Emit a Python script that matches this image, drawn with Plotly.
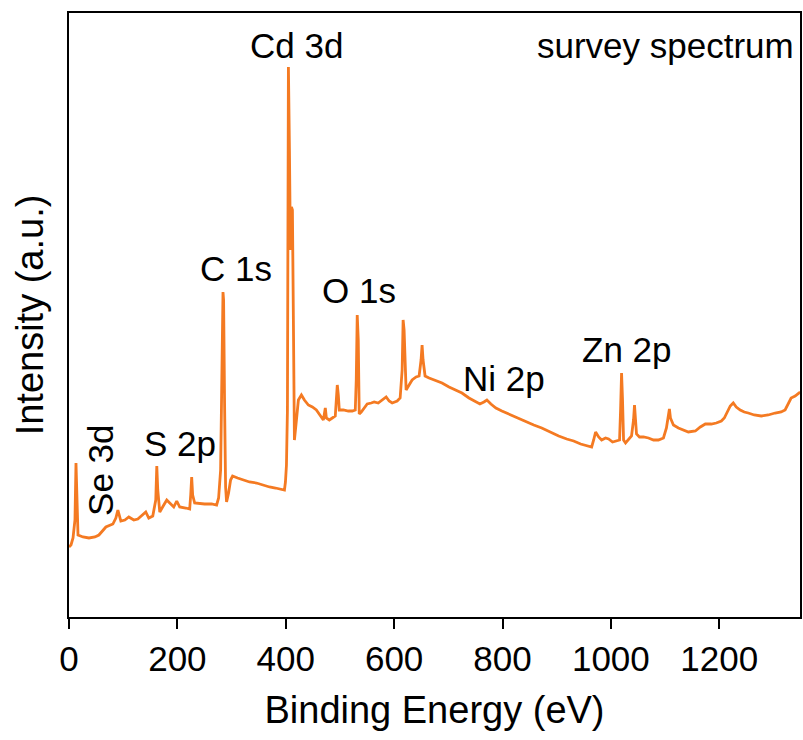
import plotly.graph_objects as go

# Binding energy (eV)
binding_energy = [
    0.0, 3.7, 7.4, 11.0, 12.9, 14.7, 16.6, 25.8, 36.8, 47.9, 55.2, 68.1, 81.0, 86.5, 90.2, 95.7,
    103.1, 110.4, 119.6, 127.0, 136.2, 141.7, 147.2, 154.6, 160.1, 162.0, 163.8, 167.5, 174.9,
    180.4, 185.9, 193.3, 198.8, 204.3, 215.4, 222.7, 224.6, 226.4, 228.2, 231.9, 250.3, 263.2,
    272.4, 276.1, 279.8, 281.6, 284.2, 285.3, 287.1, 289.0, 290.8, 294.5, 298.2, 301.9, 311.1,
    320.3, 333.1, 346.0, 357.1, 370.0, 381.0, 388.4, 397.6, 399.4, 401.3, 403.1, 404.0, 404.9,
    406.8, 408.6, 410.5, 412.3, 414.1, 416.0, 419.7, 423.3, 428.9, 434.4, 441.7, 449.1, 456.5,
    463.8, 469.4, 471.2, 473.0, 474.9, 480.4, 485.9, 491.4, 493.3, 495.1, 497.0, 498.8, 506.2,
    515.4, 522.7, 528.3, 530.1, 531.9, 533.8, 535.6, 539.3, 544.8, 550.3, 557.7, 563.2, 570.6,
    577.9, 585.3, 590.8, 596.4, 605.6, 611.1, 614.8, 616.6, 618.4, 620.3, 622.1, 627.6, 633.2,
    640.5, 646.1, 649.7, 651.6, 653.4, 657.1, 664.5, 675.5, 688.4, 701.3, 714.2, 725.2, 738.1,
    749.1, 758.3, 765.7, 771.2, 778.6, 787.8, 798.8, 811.7, 826.4, 843.0, 857.7, 872.4, 887.2,
    903.7, 918.5, 931.3, 944.2, 955.3, 964.5, 968.2, 971.8, 977.4, 982.9, 990.2, 995.8, 1003.1,
    1010.5, 1016.0, 1017.9, 1019.7, 1021.5, 1023.4, 1027.1, 1032.6, 1038.1, 1041.8, 1043.6,
    1045.5, 1047.3, 1052.8, 1060.2, 1069.4, 1078.6, 1087.8, 1097.0, 1102.5, 1106.2, 1108.0,
    1109.9, 1115.4, 1124.6, 1133.8, 1143.0, 1155.9, 1165.1, 1174.3, 1185.3, 1194.5, 1203.8,
    1209.3, 1214.8, 1220.3, 1225.8, 1231.4, 1238.7, 1246.1, 1253.5, 1264.5, 1277.4, 1290.3,
    1303.1, 1314.2, 1321.5, 1327.1, 1332.6, 1340.0, 1345.5, 1349.2,
]

# Intensity (a.u.)
intensity = [
    70, 72, 79, 97, 154, 117, 82, 80, 79, 80, 82, 90, 93, 99, 107, 96,
    97, 100, 97, 98, 102, 105, 99, 101, 117, 151, 127, 105, 112,
    117, 114, 110, 116, 110, 109, 108, 122, 140, 122, 114, 113, 113,
    112, 119, 147, 220, 325, 317, 214, 130, 115, 124, 137, 141, 139,
    137, 135, 134, 132, 130, 129, 128, 127, 135, 152, 207, 367, 550,
    467, 367, 410, 407, 297, 177, 197, 217, 222, 217, 212, 210, 207,
    201, 197, 203, 209, 199, 197, 199, 201, 217, 232, 222, 207, 207,
    206, 206, 207, 237, 302, 277, 203, 205, 209, 213, 214, 215, 214,
    217, 220, 216, 214, 216, 219, 247, 297, 287, 242, 227, 232, 237,
    240, 241, 257, 272, 257, 241, 239, 237, 234, 230, 227, 224, 219,
    216, 213, 215, 217, 213, 209, 206, 203, 199, 195, 192, 189, 185,
    181, 178, 176, 173, 171, 170, 177, 185, 180, 177, 179, 178, 175,
    176, 177, 207, 244, 217, 177, 174, 177, 181, 197, 212,
    197, 183, 180, 180, 179, 177, 177, 179, 189, 205, 208,
    199, 192, 189, 187, 185, 186, 190, 193, 193, 194, 196,
    199, 205, 211, 214, 210, 207, 205, 204, 202, 201, 202,
    204, 205, 207, 213, 219, 221, 223, 225,
]

x_ticks = [0, 200, 400, 600, 800, 1000, 1200]

label_text = ["Cd 3d", "C 1s", "O 1s", "Ni 2p", "Zn 2p", "S 2p"]
label_energy = [419.7, 307.4, 535.6, 802.5, 1028.9, 204.3]
label_level = [572, 349, 327, 239, 268, 174]

FONT = "Arial, Liberation Sans, sans-serif"
LINE_COLOR = "#F47A22"
ANN_SIZE = 35

fig = go.Figure()
fig.add_trace(go.Scatter(
    x=binding_energy, y=intensity, mode="lines",
    line=dict(color=LINE_COLOR, width=2.8), showlegend=False,
))

for t, xe, yl in zip(label_text, label_energy, label_level):
    fig.add_annotation(x=xe, y=yl, xref="x", yref="y", text=t, showarrow=False,
                       font=dict(family=FONT, size=ANN_SIZE, color="black"))

fig.add_annotation(x=57.1, y=147, xref="x", yref="y", text="Se 3d", showarrow=False,
                   textangle=-90, font=dict(family=FONT, size=ANN_SIZE, color="black"))
fig.add_annotation(x=0.995, y=572, xref="paper", yref="y", text="survey spectrum",
                   xanchor="right", showarrow=False,
                   font=dict(family=FONT, size=ANN_SIZE, color="black"))

fig.update_layout(
    width=803, height=740,
    margin=dict(l=69, r=1, t=13, b=123),
    paper_bgcolor="white", plot_bgcolor="white",
    font=dict(family=FONT, color="black"),
)
fig.update_xaxes(
    range=[0, 1349], tickvals=x_ticks, ticks="outside", ticklen=10, tickwidth=1.5,
    tickcolor="black", showline=True, linecolor="black", linewidth=1.5, mirror=True,
    showgrid=False, zeroline=False, tickfont=dict(family=FONT, size=35),
    title=dict(text="Binding Energy (eV)", font=dict(family=FONT, size=38), standoff=20),
)
fig.update_yaxes(
    range=[0, 604], showticklabels=False, ticks="", showline=True, linecolor="black",
    linewidth=1.5, mirror=True, showgrid=False, zeroline=False,
    title=dict(text="Intensity (a.u.)", font=dict(family=FONT, size=38), standoff=12),
)

fig.write_html("out.html")
